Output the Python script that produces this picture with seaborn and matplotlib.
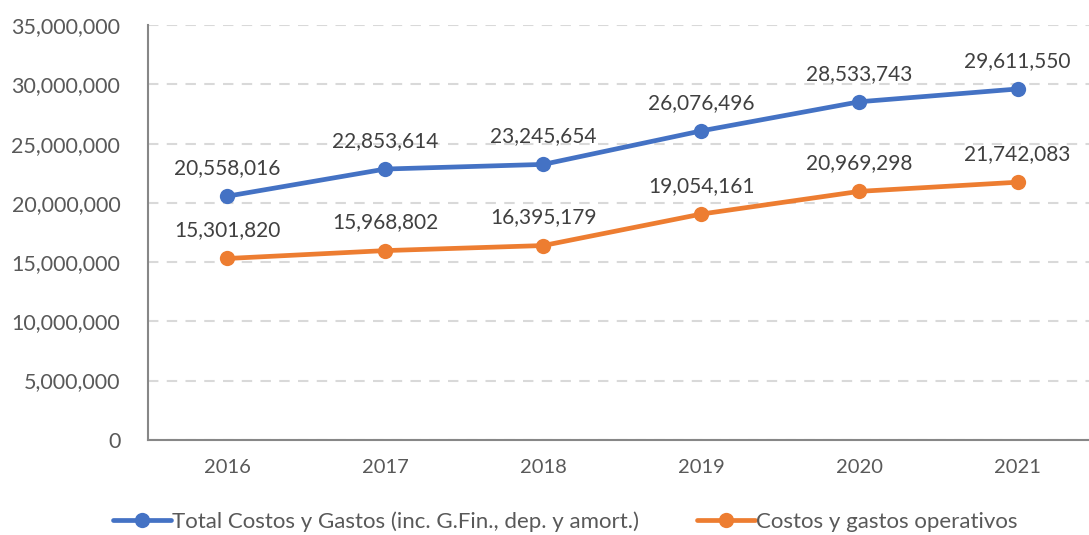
import numpy as np
import pandas as pd
import matplotlib
matplotlib.use('Agg')
import matplotlib.pyplot as plt
import seaborn as sns
from matplotlib.ticker import FuncFormatter, FixedLocator

# Datos
anios = [2016, 2017, 2018, 2019, 2020, 2021]
total_costos = [20558016, 22853614, 23245654, 26076496, 28533743, 29611550]
costos_operativos = [15301820, 15968802, 16395179, 19054161, 20969298, 21742083]
serie_total = 'Total Costos y Gastos (inc. G.Fin., dep. y amort.)'
serie_oper = 'Costos y gastos operativos'

df = pd.DataFrame({
    'Año': anios * 2,
    'Valor': total_costos + costos_operativos,
    'Serie': [serie_total] * len(anios) + [serie_oper] * len(anios),
})

sns.set_style('white')
plt.rcParams['font.family'] = ['Lato', 'DejaVu Sans']
texto = '#595959'
eje = '#878787'

fig = plt.figure(figsize=(10.89, 5.35), dpi=100)
ax = fig.add_axes([0.136, 0.178, 0.871, 0.775])

paleta = {serie_total: '#4472C4', serie_oper: '#ED7D31'}
sns.lineplot(data=df, x='Año', y='Valor', hue='Serie', palette=paleta,
             marker='o', markersize=11, markeredgewidth=0, linewidth=3.4,
             ax=ax, legend=True)

# Etiquetas de datos
for serie, vals in [(serie_total, total_costos), (serie_oper, costos_operativos)]:
    for a, v in zip(anios, vals):
        ax.annotate(f'{v:,}', (a, v), xytext=(0, 13), textcoords='offset points',
                    ha='center', va='bottom', fontsize=15, color='#404040')

ax.set_xlim(anios[0] - 0.5, anios[-1] + 0.5)
ax.set_ylim(0, 35000000)
ax.set_yticks(np.arange(0, 35000001, 5000000))
ax.yaxis.set_major_formatter(FuncFormatter(lambda v, p: f'{int(v):,}'))
ax.set_xticks(anios)
ax.xaxis.set_minor_locator(FixedLocator([a - 0.5 for a in anios] + [anios[-1] + 0.5]))
ax.tick_params(axis='x', which='major', length=0, pad=14, labelsize=14.5, labelcolor=texto)
ax.tick_params(axis='x', which='minor', length=6, width=1.5, color=eje, direction='out')
ax.tick_params(axis='y', length=6, width=1.5, color=eje, direction='out', pad=14,
               labelsize=15.5, labelcolor=texto)
ax.set_xlabel('')
ax.set_ylabel('')

ax.grid(axis='y', linestyle=(0, (5, 4)), color='#D9D9D9', linewidth=1.5)
ax.set_axisbelow(True)
for s in ['top', 'right']:
    ax.spines[s].set_visible(False)
ax.spines['left'].set_color(eje)
ax.spines['bottom'].set_color(eje)
ax.spines['left'].set_linewidth(1.5)
ax.spines['bottom'].set_linewidth(1.5)

ax.get_legend().remove()
h, l = ax.get_legend_handles_labels()
fig.legend(h, l, loc='lower center', bbox_to_anchor=(0.519, -0.032), ncol=2,
           frameon=False, fontsize=16, labelcolor=texto, handlelength=2.6,
           handletextpad=0.05, columnspacing=2.6)

fig.savefig('out.png', dpi=100)
